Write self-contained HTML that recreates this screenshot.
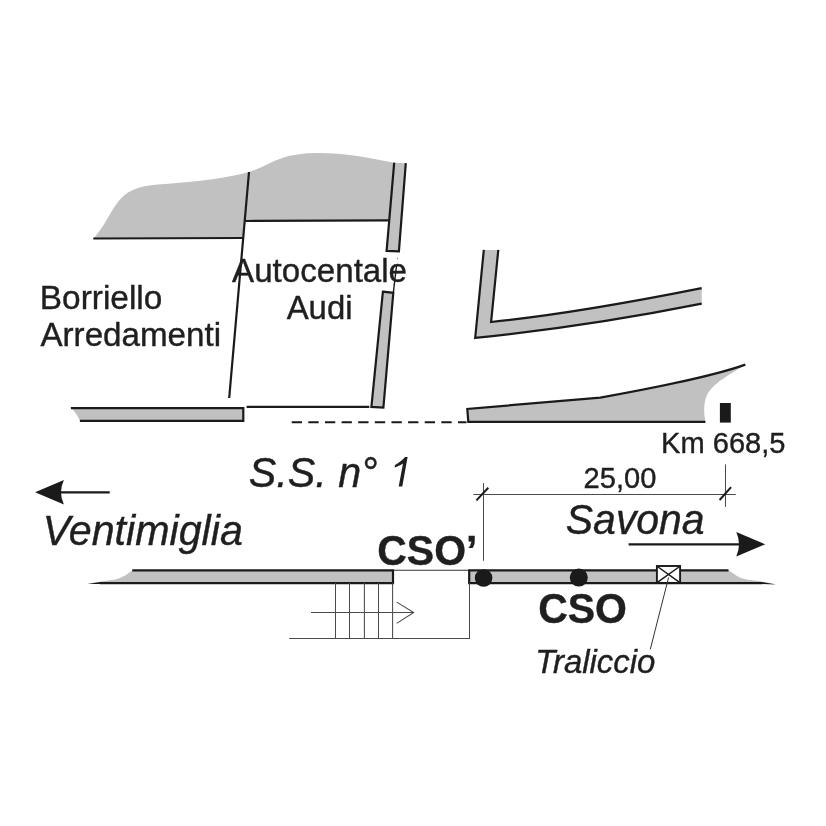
<!DOCTYPE html>
<html><head><meta charset="utf-8">
<style>
html,body{margin:0;padding:0;background:#fff;width:826px;height:826px;overflow:hidden}
svg{display:block}
text{font-family:"Liberation Sans",sans-serif;fill:#1f1f1f;stroke:#1f1f1f;stroke-width:0.4px}
svg{will-change:transform}
</style></head>
<body>
<svg width="826" height="826" viewBox="0 0 826 826">
<g fill="#c1c1c1" stroke="none">
  <!-- top gray mass -->
  <path d="M93.3,238.5 C103,229 110,212 118,202 C126,191 138,186 158,184.5 C185,182.5 220,180 249,172 C262,168 270,162 285,157 C298,153.5 310,153 318,153 C345,153 370,158 394,162.7 L405.8,163.2 L399,251.2 L386.6,250.9 L389.3,220.4 L245,221 L243,238.5 Z"/>
</g>
<g fill="none" stroke="#1a1a1a" stroke-width="2.2">
  <line x1="93.3" y1="238.5" x2="243.5" y2="238"/>
  <line x1="249" y1="172" x2="229.2" y2="398"/>
  <line x1="245" y1="221" x2="389.3" y2="220.4"/>
  <path d="M394.2,162.7 L386.6,250.9 L398.9,251.3 L405.8,163.2"/>
</g>
<!-- lower wall -->
<path d="M382.9,291.6 L393.3,292.8 L383.4,407.5 L371.4,406.9 Z" fill="#c1c1c1" stroke="#1a1a1a" stroke-width="2.2"/>
<line x1="393.3" y1="292.8" x2="396.5" y2="266" stroke="#1a1a1a" stroke-width="1.4"/>
<line x1="397.3" y1="257.6" x2="397.5" y2="259.4" stroke="#1a1a1a" stroke-width="0.9" opacity="0.6"/>
<line x1="246.6" y1="406.9" x2="369.3" y2="406.9" stroke="#1a1a1a" stroke-width="2.2"/>

<!-- left road stub -->
<path d="M70.9,408.2 L243.3,408.2 L243.3,420.8 L79.9,420.8 C77,415 75,411 70.9,408.2 Z" fill="#c1c1c1"/>
<path d="M70.9,408.2 L243.3,408.2 L243.3,420.8 L79.9,420.8" fill="none" stroke="#1a1a1a" stroke-width="2.2"/>

<!-- dashed -->
<line x1="291.7" y1="422.3" x2="466.5" y2="422.3" stroke="#1a1a1a" stroke-width="2" stroke-dasharray="10.3 6.33"/>

<!-- L shape -->
<path d="M483.8,249.9 L475.2,337.9 Q586.2,326.8 701.7,303.7 L701.7,288.2 Q574,313.7 491.1,322 L498.3,249.9 Z" fill="#c1c1c1"/>
<path d="M483.8,249.9 L475.2,337.9 Q586.2,326.8 701.7,303.7 M701.7,288.2 Q574,313.7 491.1,322 L498.3,249.9" fill="none" stroke="#1a1a1a" stroke-width="2.2"/>

<!-- right lower road piece -->
<path d="M467.3,408.9 L600.3,397.6 Q707.3,378.3 745.3,364.6 C728,376 712,384 707,395 C703,404 704,414 705.4,421.9 L468.3,421.9 Z" fill="#c1c1c1"/>
<path d="M705.4,421.9 L468.3,421.9 L467.3,408.9 L600.3,397.6 Q707.3,378.3 745.3,364.6" fill="none" stroke="#1a1a1a" stroke-width="2.2"/>
<rect x="719.9" y="403" width="10.9" height="19.6" fill="#1a1a1a"/>

<!-- labels -->

<!-- left arrow -->
<line x1="59" y1="492.3" x2="109.7" y2="492.3" stroke="#1a1a1a" stroke-width="2.3"/>
<path d="M35.1,492.3 L63.9,479.9 Q58,492.3 63.9,504.5 Z" fill="#1a1a1a"/>

<!-- dimension -->
<line x1="473.4" y1="494.5" x2="735.8" y2="494.5" stroke="#4a4a4a" stroke-width="1.05"/>
<line x1="483.5" y1="483.1" x2="483.5" y2="560.8" stroke="#4a4a4a" stroke-width="1.05"/>
<line x1="725.5" y1="464.4" x2="725.5" y2="506.9" stroke="#4a4a4a" stroke-width="1.05"/>
<line x1="476.4" y1="500.4" x2="488.3" y2="487.7" stroke="#1a1a1a" stroke-width="2"/>
<line x1="719.6" y1="500" x2="731.1" y2="487.1" stroke="#1a1a1a" stroke-width="2"/>

<!-- right arrow -->
<line x1="628.6" y1="544.3" x2="743" y2="544.3" stroke="#1a1a1a" stroke-width="2.3"/>
<path d="M765.2,544.3 L736.3,532.0 Q741.7,544.3 736.3,556.5 Z" fill="#1a1a1a"/>

<!-- bottom roads -->
<path d="M132.3,570.3 L393,570.3 L393,583.1 L88,583.8 C98,581.5 108,580.5 115,579.5 C122,578 128,574 132.3,570.3 Z" fill="#c1c1c1"/>
<path d="M132.3,570.3 L393,570.3 L393,583.1 L100,583.1" fill="none" stroke="#1a1a1a" stroke-width="2.2"/>
<path d="M100.5,581.9 L100.5,584.1 L87.5,584.1 Z" fill="#1a1a1a"/>
<line x1="393.3" y1="570.2" x2="469" y2="570.2" stroke="#333" stroke-width="1.1"/>
<path d="M469.2,570.3 L728.5,570.3 C732,572 736,576 741,578 C746,580 758,580.5 775.5,584 L469.2,583.1 Z" fill="#c1c1c1"/>
<path d="M728.5,570.3 L469.2,570.3 L469.2,583.1 L762,583.1" fill="none" stroke="#1a1a1a" stroke-width="2.2"/>
<path d="M761.5,581.9 L761.5,584.1 L776,584.5 Z" fill="#1a1a1a"/>

<!-- stairs -->
<g stroke="#4a4a4a" stroke-width="1.05" fill="none">
  <line x1="335.5" y1="583" x2="335.5" y2="638.5"/>
  <line x1="349.5" y1="583" x2="349.5" y2="638.5"/>
  <line x1="364.4" y1="583" x2="364.4" y2="638.5"/>
  <line x1="378.5" y1="583" x2="378.5" y2="638.5"/>
  <line x1="392.6" y1="583" x2="392.6" y2="638.5"/>
  <line x1="469.5" y1="583" x2="469.5" y2="639"/>
  <line x1="289.2" y1="638.5" x2="470" y2="638.5"/>
  <line x1="311" y1="612.5" x2="413.7" y2="612.5"/>
  <path d="M396.7,602.1 L413.7,612.5 L396.7,623.4"/>
</g>

<!-- dots -->
<circle cx="483.6" cy="578" r="8.8" fill="#1a1a1a"/>
<circle cx="578.8" cy="577.6" r="9" fill="#1a1a1a"/>

<!-- traliccio box -->
<rect x="656.9" y="566.0" width="23.2" height="16.9" fill="#fff" stroke="#1a1a1a" stroke-width="1.9"/>
<path d="M657.4,566.5 L679.6,582.4 M679.6,566.5 L657.4,582.4" stroke="#1a1a1a" stroke-width="1.5"/>
<line x1="668.6" y1="577.4" x2="650.3" y2="649.3" stroke="#333" stroke-width="1"/>
<!-- italic one without foot -->
<path d="M407.6,457.1 L402.3,486.6 L398.7,486.6 L403.0,463.6 C400.5,465.2 397.5,466.6 394.6,467.6 L395.0,465.0 C399.0,462.8 402.6,460.2 405.0,457.1 Z" fill="#1f1f1f"/>

<text transform="translate(39.82,309.00) scale(1.0122,1)" x="0" y="0" font-size="33.00">Borriello</text>
<text transform="translate(40.45,346.00) scale(1.0053,1)" x="0" y="0" font-size="33.00">Arredamenti</text>
<text transform="translate(232.12,282.00) scale(1.0040,1)" x="0" y="0" font-size="33.00">Autocentale</text>
<text transform="translate(286.65,319.00) scale(0.9975,1)" x="0" y="0" font-size="33.00">Audi</text>
<text transform="translate(661.07,453.00) scale(0.9954,1)" x="0" y="0" font-size="29.20">Km 668,5</text>
<text transform="translate(248.86,487.00) scale(0.9743,1)" x="0" y="0" font-size="42.30" font-style="italic">S.S. n°</text>
<text transform="translate(42.78,545.00) scale(0.9863,1)" x="0" y="0" font-size="41.80" font-style="italic">Ventimiglia</text>
<text transform="translate(583.55,488.00) scale(1.0028,1)" x="0" y="0" font-size="29.00">25,00</text>
<text transform="translate(565.82,534.00) scale(0.9795,1)" x="0" y="0" font-size="41.80" font-style="italic">Savona</text>
<text transform="translate(377.29,565.00) scale(0.9749,1)" x="0" y="0" font-size="42.00" font-weight="bold">CSO’</text>
<text transform="translate(538.21,623.00) scale(0.9756,1)" x="0" y="0" font-size="42.00" font-weight="bold">CSO</text>
<text transform="translate(535.28,673.00) scale(1.0033,1)" x="0" y="0" font-size="32.80" font-style="italic">Traliccio</text>
</svg>
</body></html>
